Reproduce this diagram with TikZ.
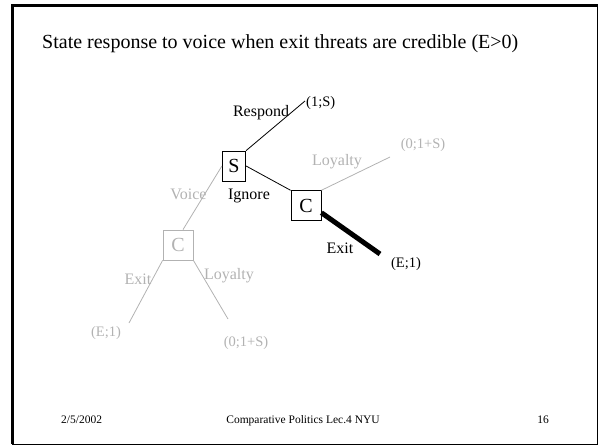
\documentclass[tikz,border=0pt]{standalone}
\usepackage{fontspec}
\setmainfont{Liberation Serif}

\begin{document}
\begin{tikzpicture}[x=1pt,y=-1pt]
        % Define styles
        \tikzset{
            move/.style={rectangle, draw, line width=0.8pt, minimum height=30pt, inner sep=0pt, font=\fontsize{20}{24}\selectfont},
            faded/.style={draw=black!30, text=black!30},
            act/.style={inner sep=0pt, anchor=base, font=\fontsize{16}{19}\selectfont},
            payoff/.style={inner sep=0pt, anchor=base, font=\fontsize{14.5}{17}\selectfont},
            footer/.style={inner sep=0pt, anchor=base, font=\fontsize{11.5}{14}\selectfont},
            branch/.style={line width=0.8pt},
            greybranch/.style={draw=black!30, line width=0.8pt}
        }
        \useasboundingbox (0,0) rectangle (600,445);

        % Frame
        \draw[line width=1pt] (12.5,5.5) rectangle (597.5,444);
        \draw[line width=2.2pt] (12.5,444) -- (12.5,5.5) -- (597.5,5.5);

        % Title
        \node[inner sep=0pt, anchor=base west, font=\fontsize{20}{24}\selectfont] (title_node) at (42,48) {State response to voice when exit threats are credible (E>0)};

        % Nodes
        \node[move, minimum width=23.4pt] (state_node) at (234,166) {S};
        \node[move, minimum width=30pt] (citizen_node_1) at (306,205.7) {C};
        \node[move, faded, minimum width=30pt] (citizen_node_2) at (178,245) {C};

        \coordinate (respond_end) at (305,101);
        \coordinate (loyalty_end_1) at (390,157);
        \coordinate (exit_end_1) at (380,254);
        \coordinate (exit_end_2) at (129,323);
        \coordinate (loyalty_end_2) at (228,319);

        % Labels
        \node[act] (respond_label) at (261,116) {Respond};
        \node[payoff, anchor=base west] (payoff_respond) at (306,106) {(1;S)};
        \node[act] (ignore_label) at (249,199) {Ignore};
        \node[act, text=black!30] (voice_label) at (188.5,199) {Voice};
        \node[act, text=black!30] (loyalty_label_1) at (337,165) {Loyalty};
        \node[payoff, text=black!30] (payoff_loyalty_1) at (423,148) {(0;1+S)};
        \node[act] (exit_label_1) at (340,253) {Exit};
        \node[payoff] (payoff_exit_1) at (406,267) {(E;1)};
        \node[act, text=black!30] (exit_label_2) at (138,284) {Exit};
        \node[payoff, text=black!30] (payoff_exit_2) at (106,336) {(E;1)};
        \node[act, text=black!30] (loyalty_label_2) at (229,279) {Loyalty};
        \node[payoff, text=black!30] (payoff_loyalty_2) at (246,346) {(0;1+S)};

        % Branches
        \draw[branch] (state_node.north east) -- (respond_end);
        \draw[branch] (state_node.east) -- (citizen_node_1.north west);
        \draw[greybranch] (state_node.west) -- ([xshift=5pt]citizen_node_2.north);
        \draw[greybranch] (citizen_node_1.north east) -- (loyalty_end_1);
        \draw[line width=5pt] ([yshift=-7pt]citizen_node_1.east) -- (exit_end_1);
        \draw[greybranch] (citizen_node_2.south west) -- (exit_end_2);
        \draw[greybranch] (citizen_node_2.south east) -- (loyalty_end_2);

        % Footer
        \node[footer, anchor=base west] (date_node) at (61,423) {2/5/2002};
        \node[footer] (course_node) at (303,423) {Comparative Politics Lec.4 NYU};
        \node[footer] (page_node) at (543,423) {16};
    \end{tikzpicture}
\end{document}
